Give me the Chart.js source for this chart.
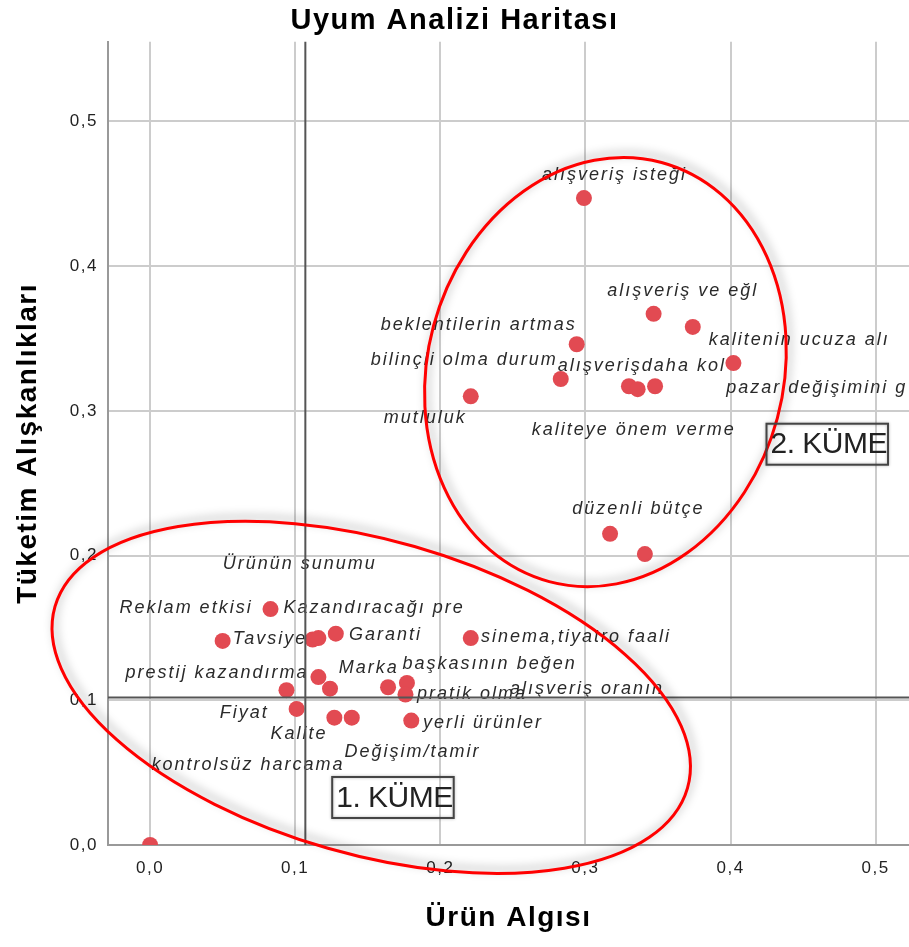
<!DOCTYPE html>
<html>
<head>
<meta charset="utf-8">
<title>Uyum Analizi Haritası</title>
<script src="https://cdn.jsdelivr.net/npm/chart.js@4.4.1/dist/chart.umd.min.js"></script>
<style>
  html, body { margin: 0; padding: 0; background: #fff; }
  canvas { display: block; }
</style>
</head>
<body>
<canvas id="uyumChart" width="909" height="947"></canvas>
<script>
// nokta koordinatlari (Ürün Algısı, Tüketim Alışkanlıkları)
var urunAlgisi = [
  0.299, 0.347, 0.374, 0.402, 0.294, 0.283, 0.330, 0.336, 0.348, 0.221, 0.317, 0.341,
  0.000, 0.083, 0.050, 0.112, 0.116, 0.128, 0.221, 0.116, 0.124, 0.094, 0.164, 0.177,
  0.176, 0.101, 0.127, 0.139, 0.180
];
var tuketimAliskanligi = [
  0.447, 0.367, 0.358, 0.333, 0.346, 0.322, 0.317, 0.315, 0.317, 0.310, 0.215, 0.201,
  0.000, 0.163, 0.141, 0.142, 0.143, 0.146, 0.143, 0.116, 0.108, 0.107, 0.109, 0.112,
  0.104, 0.094, 0.088, 0.088, 0.086
];

// etiket metinleri ve yerleri (veri biriminde)
var etiketler = [
  'alışveriş isteği', 'alışveriş ve eğl', 'kalitenin ucuza alı', 'pazar değişimini g',
  'beklentilerin artmas', 'bilinçli olma durum', 'alışverişdaha kol', 'mutluluk',
  'kaliteye önem verme', 'düzenli bütçe',
  'Ürünün sunumu', 'Reklam etkisi', 'Kazandıracağı pre', 'Tavsiye', 'Garanti',
  'sinema,tiyatro faali', 'prestij kazandırma', 'Marka', 'başkasının beğen', 'pratik olma',
  'alışveriş oranın', 'Fiyat', 'Kalite', 'yerli ürünler', 'Değişim/tamir', 'kontrolsüz harcama'
];
var etiketX = [
  0.270, 0.315, 0.385, 0.397, 0.159, 0.152, 0.281, 0.161, 0.263, 0.291,
  0.050, -0.021, 0.092, 0.057, 0.137, 0.228, -0.017, 0.130, 0.174, 0.184,
  0.248, 0.048, 0.083, 0.188, 0.134, 0.001
];
var etiketY = [
  0.463, 0.383, 0.349, 0.316, 0.359, 0.335, 0.331, 0.295, 0.287, 0.232,
  0.194, 0.164, 0.164, 0.142, 0.145, 0.144, 0.119, 0.122, 0.125, 0.104,
  0.108, 0.091, 0.077, 0.084, 0.064, 0.055
];

var xTickValues = [0.0, 0.1, 0.2, 0.3, 0.4, 0.5];
var yTickValues = [0.0, 0.1, 0.2, 0.3, 0.4, 0.5];

// ortalama cizgileri
var refX = 0.107;
var refY = 0.102;

var FONT = '"Liberation Sans", Arial, sans-serif';

// kume halkalari ve kutulari
var halkalar = [
  { x: 0.1524, y: 0.102, rx: 329, ry: 157, aci: 16 },
  { x: 0.3138, y: 0.3268, rx: 178, ry: 217, aci: 15 }
];
var kutular = [
  { metin: '1. KÜME', x: 0.1255, y: 0.047 },
  { metin: '2. KÜME', x: 0.4248, y: 0.2911 }
];

var noktalar = urunAlgisi.map(function (v, i) {
  return { x: v, y: tuketimAliskanligi[i] };
});

function fmt(v) {
  return Number(v).toFixed(1).replace('.', ',');
}

var cizimPlugin = {
  id: 'cizim',
  beforeLayout: function (chart) { chart.ctx.letterSpacing = '1.5px'; },
  beforeDraw: function (chart) { chart.ctx.letterSpacing = '1.5px'; },
  afterDatasetsDraw: function (chart) {
    var ctx = chart.ctx, xs = chart.scales.x, ys = chart.scales.y, a = chart.chartArea;

    ctx.save();
    // etiketler
    ctx.font = 'italic 18px ' + FONT;
    ctx.letterSpacing = '2px';
    ctx.fillStyle = '#2a2a2a';
    ctx.textBaseline = 'middle';
    ctx.textAlign = 'left';
    etiketler.forEach(function (t, i) {
      ctx.fillText(t, xs.getPixelForValue(etiketX[i]), ys.getPixelForValue(etiketY[i]));
    });

    // referans cizgileri
    var px = xs.getPixelForValue(refX), py = ys.getPixelForValue(refY);
    ctx.strokeStyle = '#555';
    ctx.lineWidth = 2;
    ctx.beginPath();
    ctx.moveTo(px, a.top); ctx.lineTo(px, a.bottom);
    ctx.moveTo(a.left, py); ctx.lineTo(a.right, py);
    ctx.stroke();
    ctx.restore();

    // halkalar
    ctx.save();
    ctx.shadowColor = 'rgba(0,0,0,0.35)';
    ctx.shadowBlur = 10;
    ctx.shadowOffsetX = 3;
    ctx.shadowOffsetY = -4;
    ctx.strokeStyle = '#ff0000';
    ctx.lineWidth = 3;
    halkalar.forEach(function (h) {
      ctx.beginPath();
      ctx.ellipse(xs.getPixelForValue(h.x), ys.getPixelForValue(h.y), h.rx, h.ry,
        h.aci * Math.PI / 180, 0, 2 * Math.PI);
      ctx.stroke();
    });
    ctx.restore();

    // kutular
    ctx.save();
    ctx.font = '30px ' + FONT;
    ctx.letterSpacing = '-0.5px';
    ctx.textBaseline = 'middle';
    ctx.textAlign = 'left';
    kutular.forEach(function (k) {
      var bx = xs.getPixelForValue(k.x), by = ys.getPixelForValue(k.y);
      var w = ctx.measureText(k.metin).width + 5, h = 41;
      ctx.shadowColor = 'rgba(0,0,0,0.3)';
      ctx.shadowBlur = 3;
      ctx.strokeStyle = '#444';
      ctx.lineWidth = 2;
      ctx.strokeRect(bx, by, w, h);
      ctx.shadowColor = 'transparent';
      ctx.fillStyle = '#222';
      ctx.fillText(k.metin, bx + 4, by + h / 2 + 1);
    });
    ctx.restore();
  }
};

new Chart(document.getElementById('uyumChart'), {
  type: 'scatter',
  data: {
    datasets: [{
      data: noktalar,
      pointRadius: 8,
      pointHoverRadius: 8,
      pointBackgroundColor: 'rgb(226,74,82)',
      pointBorderWidth: 0
    }]
  },
  options: {
    responsive: false,
    animation: false,
    devicePixelRatio: 1,
    layout: { padding: 0, autoPadding: false },
    plugins: {
      legend: { display: false },
      tooltip: { enabled: false },
      title: {
        display: true,
        text: 'Uyum Analizi Haritası',
        color: '#000',
        font: { family: FONT, size: 29, weight: 'bold' },
        padding: { top: 4, bottom: 3 }
      }
    },
    scales: {
      x: {
        type: 'linear',
        min: -0.029,
        max: 0.523,
        afterBuildTicks: function (s) { s.ticks = xTickValues.map(function (v) { return { value: v }; }); },
        afterFit: function (s) { s.height = 102; s.paddingLeft = 0; s.paddingRight = 0; },
        ticks: {
          padding: 13,
          color: '#222',
          font: { family: FONT, size: 17 },
          callback: function (v) { return fmt(v); }
        },
        grid: { color: '#cccccc', lineWidth: 2, drawTicks: false },
        border: { color: '#999', width: 2 },
        title: {
          display: true,
          text: 'Ürün Algısı',
          color: '#000',
          font: { family: FONT, size: 28, weight: 'bold' },
          padding: { top: 0, bottom: 12 }
        }
      },
      y: {
        type: 'linear',
        min: 0,
        max: 0.555,
        afterBuildTicks: function (s) { s.ticks = yTickValues.map(function (v) { return { value: v }; }); },
        afterFit: function (s) { s.width = 108; s.paddingTop = 0; s.paddingBottom = 0; },
        ticks: {
          padding: 10,
          color: '#222',
          font: { family: FONT, size: 17 },
          callback: function (v) { return fmt(v); }
        },
        grid: { color: '#cccccc', lineWidth: 2, drawTicks: false },
        border: { color: '#999', width: 2 },
        title: {
          display: true,
          text: 'Tüketim Alışkanlıkları',
          color: '#000',
          font: { family: FONT, size: 28, weight: 'bold' },
          padding: { top: 11, bottom: 0 }
        }
      }
    }
  },
  plugins: [cizimPlugin]
});
</script>
</body>
</html>
